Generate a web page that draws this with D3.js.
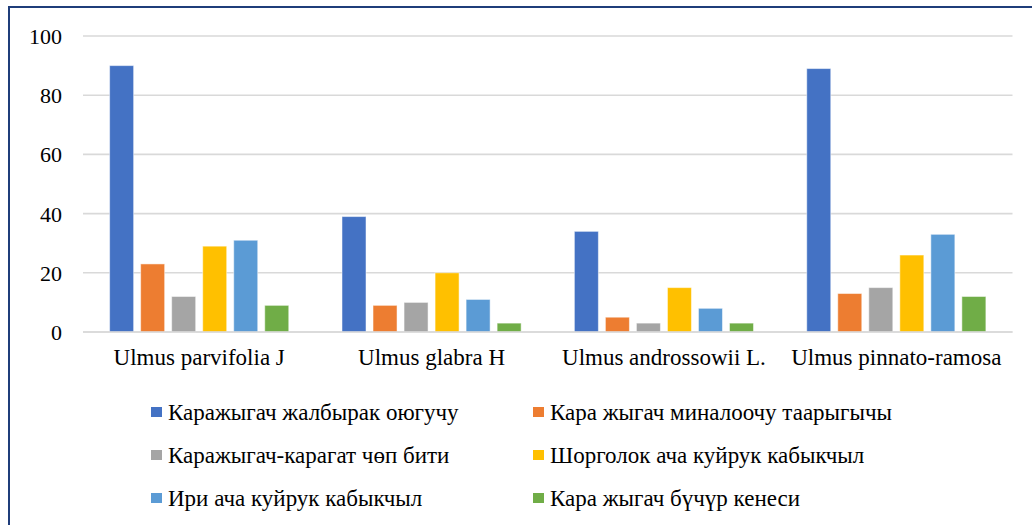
<!DOCTYPE html>
<html>
<head>
<meta charset="utf-8">
<script src="https://cdn.jsdelivr.net/npm/d3@7"></script>
<style>
  html, body { margin: 0; padding: 0; background: #fff; }
  svg { display: block; }
  svg text { font-family: 'Liberation Serif', 'Times New Roman', 'DejaVu Serif', serif !important; }
</style>
</head>
<body>
<svg id="chart" width="1032" height="525"></svg>
<script>
const categories = ["Ulmus parvifolia J", "Ulmus glabra H", "Ulmus androssowii L.", "Ulmus pinnato-ramosa"];
const seriesNames = [
  "Каражыгач жалбырак оюгучу",
  "Кара жыгач миналоочу таарыгычы",
  "Каражыгач-карагат чөп бити",
  "Шорголок ача куйрук кабыкчыл",
  "Ири ача куйрук кабыкчыл",
  "Кара жыгач бүчүр кенеси"
];
const seriesColors = ["#4472C4", "#ED7D31", "#A5A5A5", "#FFC000", "#5B9BD5", "#70AD47"];
const s1 = [90, 39, 34, 89];
const s2 = [23, 9, 5, 13];
const s3 = [12, 10, 3, 15];
const s4 = [29, 20, 15, 26];
const s5 = [31, 11, 8, 33];
const s6 = [9, 3, 3, 12];
const yTicks = [0, 20, 40, 60, 80, 100];

const seriesValues = [s1, s2, s3, s4, s5, s6];

const svg = d3.select("#chart");
const W = 1032, H = 525;
const plot = { left: 83, right: 1012.5, top: 36, bottom: 332 };

svg.append("rect")
  .attr("x", 9).attr("y", 7)
  .attr("width", W + 20).attr("height", H + 20)
  .attr("fill", "#fff")
  .attr("stroke", "#1F3D7A")
  .attr("stroke-width", 2);

const y = d3.scaleLinear().domain([0, 100]).range([plot.bottom, plot.top]);
const x0 = d3.scaleBand().domain(categories).range([plot.left, plot.right]).padding(0);
const x1 = d3.scaleBand().domain(d3.range(seriesNames.length))
  .range([0, x0.bandwidth()]).paddingInner(0.226).paddingOuter(0.858);

svg.append("g").selectAll("line").data(yTicks).join("line")
  .attr("x1", plot.left).attr("x2", plot.right)
  .attr("y1", d => y(d)).attr("y2", d => y(d))
  .attr("stroke", "#D9D9D9").attr("stroke-width", 1.6);

const yAxis = d3.axisLeft(y).tickValues(yTicks).tickSize(0).tickPadding(0);
const yg = svg.append("g").attr("transform", `translate(62,0)`).call(yAxis);
yg.attr("font-family", null).attr("font-size", null);
yg.select(".domain").remove();
yg.selectAll("text")
  .attr("font-size", 22).attr("fill", "#000").attr("dy", "0.34em");

const groups = svg.append("g").selectAll("g").data(categories).join("g")
  .attr("transform", d => `translate(${x0(d)},0)`);
groups.selectAll("rect")
  .data((c, ci) => seriesValues.map((vals, si) => ({ si, v: vals[ci] })))
  .join("rect")
  .attr("x", d => x1(d.si))
  .attr("width", x1.bandwidth())
  .attr("y", d => y(d.v))
  .attr("height", d => y(0) - y(d.v))
  .attr("fill", d => seriesColors[d.si])
  .attr("stroke", "#ffffff").attr("stroke-opacity", 0.5).attr("stroke-width", 1);

svg.append("line")
  .attr("x1", plot.left).attr("x2", plot.right)
  .attr("y1", y(0)).attr("y2", y(0))
  .attr("stroke", "#D9D9D9").attr("stroke-width", 1.6);

const xAxis = d3.axisBottom(x0).tickSize(0).tickPadding(0);
const xg = svg.append("g").attr("transform", `translate(0,${plot.bottom + 17})`).call(xAxis);
xg.attr("font-family", null).attr("font-size", null);
xg.select(".domain").remove();
xg.selectAll("text")
  .attr("font-size", 23).attr("fill", "#000").attr("dy", "0.71em");

const legendCols = [151, 533];
const legendRows = [412, 455, 498];
const leg = svg.append("g").selectAll("g").data(seriesNames).join("g")
  .attr("transform", (d, i) => `translate(${legendCols[i % 2]},${legendRows[Math.floor(i / 2)]})`);
leg.append("rect")
  .attr("x", 0).attr("y", -5).attr("width", 11).attr("height", 10)
  .attr("fill", (d, i) => seriesColors[i]);
leg.append("text")
  .attr("x", 17).attr("y", 0).attr("dy", "0.34em")
  .attr("font-size", 23).attr("fill", "#000")
  .text(d => d);
</script>
</body>
</html>
